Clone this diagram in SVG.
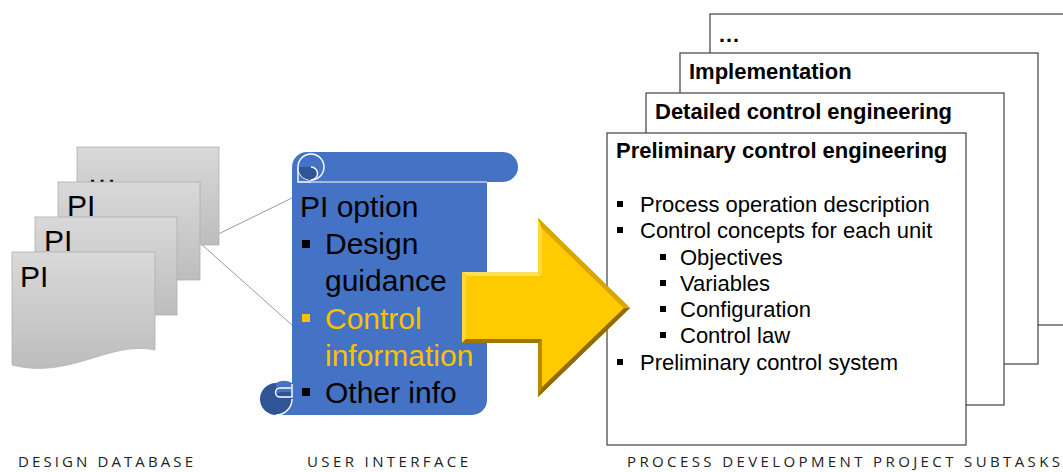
<svg xmlns="http://www.w3.org/2000/svg" width="1063" height="472" viewBox="0 0 1063 472">
<style>
.pg{fill:url(#gray);stroke:#B0B0B0;stroke-width:0.8}
.pi{font-family:"Liberation Sans",Arial,sans-serif;font-size:30px;fill:#000}
.sc{font-family:"Liberation Sans",Arial,sans-serif;font-size:30px;fill:#000}
.scy{fill:#FFC000}
.box{fill:#fff;stroke:#404040;stroke-width:1.2}
.ttl{font-family:"Liberation Sans",Arial,sans-serif;font-size:22px;font-weight:bold;fill:#000}
.itm{font-family:"Liberation Sans",Arial,sans-serif;font-size:22px;fill:#000}
.lbl{font-family:"Open Sans","Liberation Sans",sans-serif;font-size:15px;fill:#222}
.conn{stroke:#808080;stroke-width:0.8;fill:none}
.wl{fill:none;stroke:#fff;stroke-width:1.4}
</style>
<defs>
<linearGradient id="gray" x1="0" y1="0" x2="0" y2="1">
<stop offset="0" stop-color="#D9D9D9"/>
<stop offset="1" stop-color="#BDBDBD"/>
</linearGradient>
</defs>
<rect width="1063" height="472" fill="#fff"/>

<g id="connectors">
<line class="conn" x1="200" y1="243" x2="292" y2="198"/>
<line class="conn" x1="200" y1="243" x2="292" y2="325"/>
</g>

<g id="design-database">
<rect class="pg" x="77" y="147" width="142" height="98"/>
<text class="pi" x="87" y="183">…</text>
<rect class="pg" x="58" y="182" width="142" height="98"/>
<text class="pi" x="67" y="216">PI</text>
<rect class="pg" x="35" y="217" width="142" height="98"/>
<text class="pi" x="44" y="251">PI</text>
<path class="pg" d="M12,252 H155 V350 C110,340 70,380 12,365 Z"/>
<text class="pi" x="20" y="287">PI</text>
</g>

<g id="user-interface">
<path d="M292,170 H487 V400 A15,15 0 0 1 472,415 H276 V385 H292 Z" fill="#4472C4"/>
<rect x="298" y="152" width="220" height="30" rx="15" fill="#4472C4"/>
<circle cx="307" cy="167" r="15" fill="#4472C4"/>
<rect x="292" y="167" width="15" height="15" fill="#4472C4"/>
<line x1="311" y1="182" x2="487" y2="182" stroke="#fff" stroke-width="1"/>
<circle cx="311" cy="167" r="13" class="wl"/>
<path d="M298,167 H311 A6.5,6.5 0 0 1 311,180 A13,13 0 0 1 298,167 Z" fill="#2F5597"/>
<path d="M311,167 A6.5,6.5 0 0 1 311,180" class="wl"/>
<path d="M298,167 V182 H311" class="wl"/>
<circle cx="276" cy="399" r="16" fill="#2F5597"/>
<path d="M276,383 A16,16 0 0 1 292,383 V392 H281 A5,5 0 0 0 276,397 Z" fill="#4472C4"/>
<path d="M292,384 V397 H280 A4.5,4.5 0 0 1 280,388 H291" class="wl"/>
<path d="M292,399 A16,16 0 0 1 276,415" class="wl"/>
<text class="sc" x="300" y="217">PI option</text>
<rect x="302" y="240" width="8" height="8" fill="#000"/>
<text class="sc" x="325" y="254">Design</text>
<text class="sc" x="325" y="291">guidance</text>
<rect x="302" y="314" width="8" height="8" fill="#FFC000"/>
<text class="sc scy" x="325" y="329">Control</text>
<text class="sc scy" x="325" y="366">information</text>
<rect x="302" y="388" width="8" height="8" fill="#000"/>
<text class="sc" x="325" y="403">Other info</text>
</g>

<g id="subtasks">
<rect class="box" x="710" y="14" width="370" height="311"/>
<text class="ttl" x="718" y="42">…</text>
<rect class="box" x="680" y="53" width="358" height="311"/>
<text class="ttl" x="689" y="79">Implementation</text>
<rect class="box" x="646" y="93" width="358" height="312"/>
<text class="ttl" x="655" y="119">Detailed control engineering</text>
<rect class="box" x="607" y="133" width="359" height="312"/>
<text class="ttl" x="616" y="158">Preliminary control engineering</text>
<rect x="617" y="201" width="6" height="6" fill="#000"/>
<text class="itm" x="640" y="212">Process operation description</text>
<rect x="617" y="227" width="6" height="6" fill="#000"/>
<text class="itm" x="640" y="238">Control concepts for each unit</text>
<rect x="660" y="254" width="6" height="6" fill="#000"/>
<text class="itm" x="680" y="265">Objectives</text>
<rect x="660" y="280" width="6" height="6" fill="#000"/>
<text class="itm" x="680" y="291">Variables</text>
<rect x="660" y="306" width="6" height="6" fill="#000"/>
<text class="itm" x="680" y="317">Configuration</text>
<rect x="660" y="332" width="6" height="6" fill="#000"/>
<text class="itm" x="680" y="343">Control law</text>
<rect x="617" y="359" width="6" height="6" fill="#000"/>
<text class="itm" x="640" y="370">Preliminary control system</text>
</g>

<g id="arrow">
<polygon points="462,272 538,272 538,218 630,308 538,397 538,343 462,343" fill="#A07800"/>
<polygon points="462,272 538,272 542,276 466,276" fill="#FFE05A"/>
<polygon points="462,272 466,276 466,339 462,343" fill="#FFD83A"/>
<polygon points="538,218 542,228 542,276 538,272" fill="#FFD83A"/>
<polygon points="538,218 630,308 624,308 542,228" fill="#D9A800"/>
<polygon points="630,308 538,397 542,387 624,308" fill="#8F6B00"/>
<polygon points="462,343 466,339 542,339 538,343" fill="#9E7700"/>
<polygon points="538,343 542,339 542,387 538,397" fill="#B88A00"/>
<polygon points="466,276 542,276 542,228 624,308 542,387 542,339 466,339" fill="#FFCA00"/>
</g>

<g id="labels">
<text class="lbl" x="18" y="467" textLength="175" lengthAdjust="spacing">DESIGN DATABASE</text>
<text class="lbl" x="307" y="467" textLength="161" lengthAdjust="spacing">USER INTERFACE</text>
<text class="lbl" x="627" y="467" textLength="433" lengthAdjust="spacing">PROCESS DEVELOPMENT PROJECT SUBTASKS</text>
</g>
</svg>
